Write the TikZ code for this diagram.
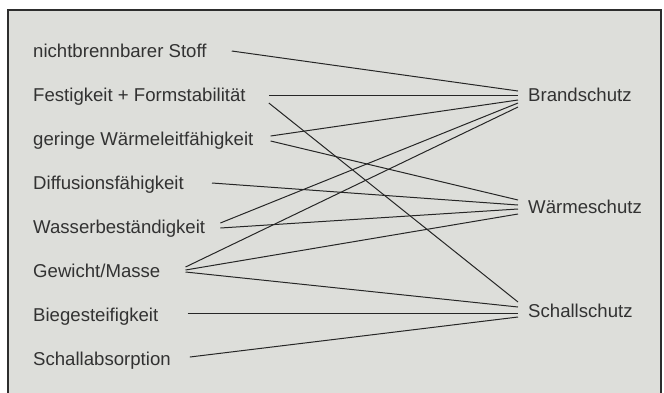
\documentclass[tikz,border=0pt]{standalone}
\usepackage{fontspec}
\setmainfont{Liberation Sans}
\usepackage{tikz}

\definecolor{panelgray}{RGB}{221,222,218}
\definecolor{framegray}{RGB}{45,45,45}
\definecolor{textgray}{RGB}{50,50,50}

\tikzset{
  prop/.style={anchor=base west, inner sep=0pt, text=textgray,
    font=\fontsize{18.6}{21}\selectfont},
  goal/.style={prop},
  link/.style={line width=1pt, draw=black!85}
}

\begin{document}
\begin{tikzpicture}[x=1pt,y=-1pt]

  \useasboundingbox (0,0) rectangle (664,392);
  \clip (0,0) rectangle (664,392);

  \draw[fill=panelgray, draw=framegray, line width=1.8pt] (8,10) rectangle (661,400);

  % properties on the left
  \node[prop] (nicht)   at (33, 57) {nichtbrennbarer Stoff};
  \node[prop] (fest)    at (33,101) {Festigkeit + Formstabilität};
  \node[prop] (gering)  at (33,145) {geringe Wärmeleitfähigkeit};
  \node[prop] (diff)    at (33,189) {Diffusionsfähigkeit};
  \node[prop] (wasser)  at (33,233) {Wasserbeständigkeit};
  \node[prop] (gewicht) at (33,277) {Gewicht/Masse};
  \node[prop] (biege)   at (33,321) {Biegesteifigkeit};
  \node[prop] (absorb)  at (33,365) {Schallabsorption};

  % protection goals on the right
  \node[goal] (brand)  at (528,101) {Brandschutz};
  \node[goal] (waerme) at (528,213) {Wärmeschutz};
  \node[goal] (schall) at (528,317) {Schallschutz};

  \draw[link] ([shift={(25,-6)}]nicht.base east)   -- ([shift={(-10,-10)}]brand.base west);
  \draw[link] ([shift={(23,-6)}]fest.base east)    -- ([shift={(-10,-6)}]brand.base west);
  \draw[link] ([shift={(23,2)}]fest.base east)     -- ([shift={(-10,-15)}]schall.base west);
  \draw[link] ([shift={(17,-9)}]gering.base east)  -- ([shift={(-10,-1)}]brand.base west);
  \draw[link] ([shift={(17,-4)}]gering.base east)  -- ([shift={(-10,-13)}]waerme.base west);
  \draw[link] ([shift={(28,-6)}]diff.base east)    -- ([shift={(-10,-8)}]waerme.base west);
  \draw[link] ([shift={(15,-10)}]wasser.base east) -- ([shift={(-10,2)}]brand.base west);
  \draw[link] ([shift={(15,-5)}]wasser.base east)  -- ([shift={(-10,-4)}]waerme.base west);
  \draw[link] ([shift={(25,-10)}]gewicht.base east) -- ([shift={(-10,6)}]brand.base west);
  \draw[link] ([shift={(25,-7)}]gewicht.base east) -- ([shift={(-10,1)}]waerme.base west);
  \draw[link] ([shift={(25,-5)}]gewicht.base east) -- ([shift={(-10,-10)}]schall.base west);
  \draw[link] ([shift={(29,-8)}]biege.base east)   -- ([shift={(-10,-4)}]schall.base west);
  \draw[link] ([shift={(19,-8)}]absorb.base east)  -- ([shift={(-10,0)}]schall.base west);

\end{tikzpicture}
\end{document}
